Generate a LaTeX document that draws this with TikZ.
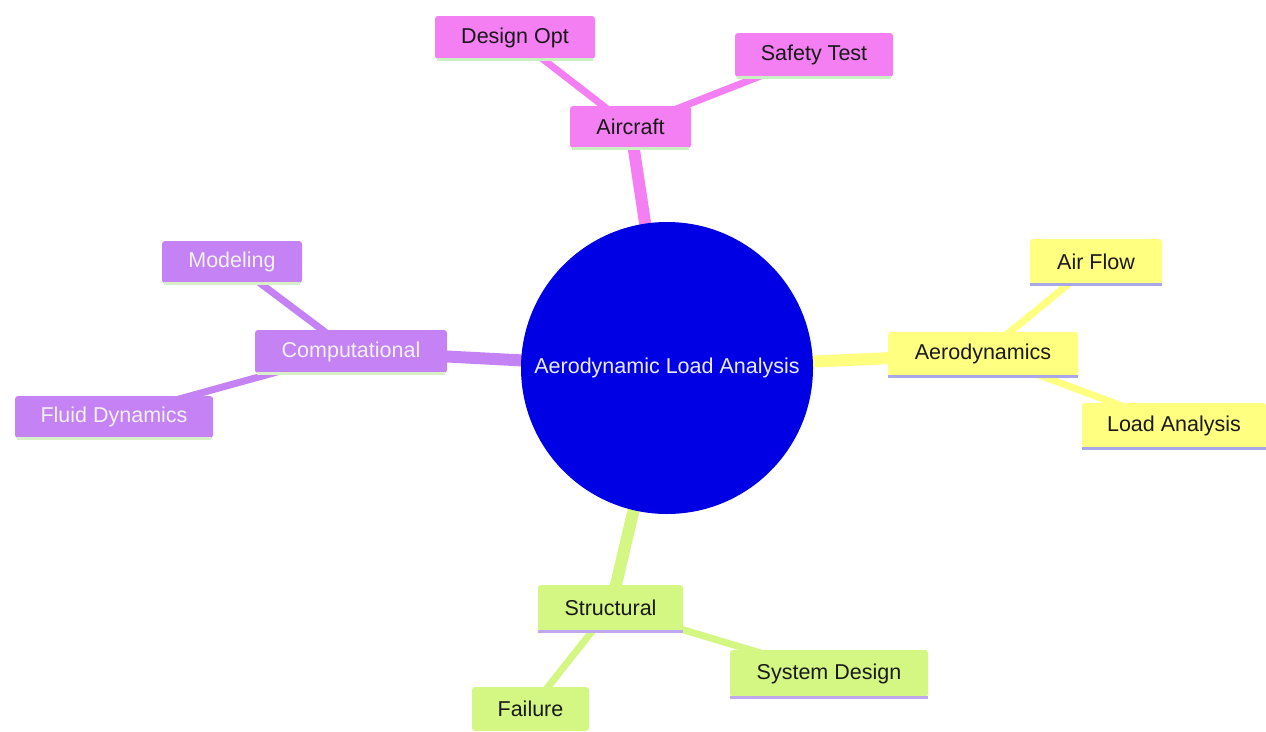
\documentclass[tikz,border=0pt]{standalone}
\usepackage{fontspec}
\setmainfont{Liberation Sans}
\definecolor{cpink}{HTML}{F47FF2}
\definecolor{cpinkline}{HTML}{C8F0C0}
\definecolor{cyel}{HTML}{FFFF80}
\definecolor{cyelline}{HTML}{A8A8E8}
\definecolor{cpur}{HTML}{C482F5}
\definecolor{cpurline}{HTML}{D8F0C8}
\definecolor{cgrn}{HTML}{D4F784}
\definecolor{cgrnline}{HTML}{C0A8F0}
\definecolor{cblue}{HTML}{0000E4}
\begin{document}
\begin{tikzpicture}[x=1pt,y=-1pt,
  lbl/.style={font=\fontsize{21.5}{25}\selectfont, rounded corners=3pt, inner sep=0pt, text=black!90},
  pinkbox/.style={lbl, fill=cpink},
  yelbox/.style={lbl, fill=cyel},
  purbox/.style={lbl, fill=cpur, text=white!95!black},
  grnbox/.style={lbl, fill=cgrn},
  trunk/.style={line width=12pt},
  twig/.style={line width=7pt},
  uline/.style={line width=3pt}]
\useasboundingbox (0,0) rectangle (1266,731);
% coordinates of node centres
\coordinate (cc) at (667,368);
\coordinate (pd) at (515,37.5);
\coordinate (ps) at (814,55);
\coordinate (pa) at (630.5,127);
\coordinate (ya) at (983,354);
\coordinate (yf) at (1096,261.5);
\coordinate (yl) at (1174,425.5);
\coordinate (um) at (232,262);
\coordinate (uc) at (351,351.5);
\coordinate (uf) at (114,417);
\coordinate (gs) at (610.5,608);
\coordinate (gd) at (829,673.5);
\coordinate (gf) at (530.5,709);
% connectors
\draw[twig, cpink] (pd) -- (pa);
\draw[twig, cpink] (ps) -- (pa);
\draw[trunk, cpink] (cc) -- (pa);
\draw[twig, cyel] (yf) -- (ya);
\draw[twig, cyel] (yl) -- (ya);
\draw[trunk, cyel] (cc) -- (ya);
\draw[twig, cpur] (um) -- (uc);
\draw[twig, cpur] (uf) -- (uc);
\draw[trunk, cpur] (cc) -- (uc);
\draw[twig, cgrn] (gd) -- (gs);
\draw[twig, cgrn] (gf) -- (gs);
\draw[trunk, cgrn] (cc) -- (gs);
% central circle
\node[circle, fill=cblue, minimum size=292pt, inner sep=0pt, text=white!92!blue,
  font=\fontsize{21.5}{25}\selectfont] (root) at (cc) {Aerodynamic Load Analysis};
% nodes
\node[pinkbox, minimum width=160pt, minimum height=43pt] (design) at (pd) {Design Opt};
\node[pinkbox, minimum width=158pt, minimum height=44pt] (safety) at (ps) {Safety Test};
\node[pinkbox, minimum width=121pt, minimum height=42pt] (aircraft) at (pa) {Aircraft};
\node[yelbox, minimum width=190pt, minimum height=44pt] (aero) at (ya) {Aerodynamics};
\node[yelbox, minimum width=132pt, minimum height=45pt] (airflow) at (yf) {Air Flow};
\node[yelbox, minimum width=184pt, minimum height=45pt] (loadan) at (yl) {Load Analysis};
\node[purbox, minimum width=140pt, minimum height=42pt] (modeling) at (um) {Modeling};
\node[purbox, minimum width=192pt, minimum height=43pt] (comput) at (uc) {Computational};
\node[purbox, minimum width=198pt, minimum height=42pt] (fluid) at (uf) {Fluid Dynamics};
\node[grnbox, minimum width=145pt, minimum height=46pt] (struct) at (gs) {Structural};
\node[grnbox, minimum width=198pt, minimum height=47pt] (sysdes) at (gd) {System Design};
\node[grnbox, minimum width=117pt, minimum height=44pt] (failure) at (gf) {Failure};
% bottom edges
\foreach \n in {design,safety,aircraft}
  \draw[uline, cpinkline] ([xshift=2pt]\n.south west) -- ([xshift=-2pt]\n.south east);
\foreach \n in {aero,airflow,loadan}
  \draw[uline, cyelline] (\n.south west) -- (\n.south east);
\foreach \n in {modeling,comput,fluid}
  \draw[uline, cpurline] ([xshift=2pt]\n.south west) -- ([xshift=-2pt]\n.south east);
\foreach \n in {struct,sysdes}
  \draw[uline, cgrnline] (\n.south west) -- (\n.south east);
\end{tikzpicture}
\end{document}
